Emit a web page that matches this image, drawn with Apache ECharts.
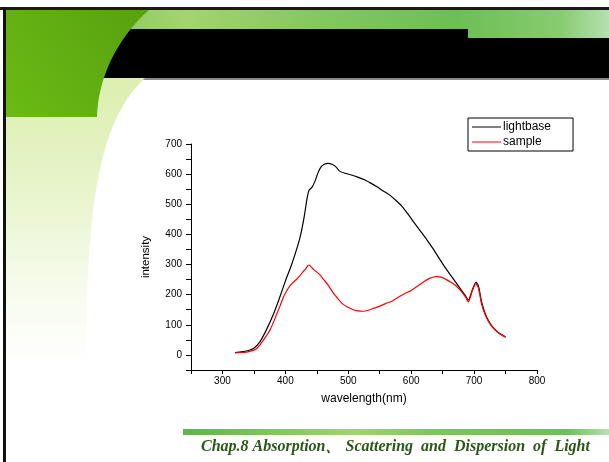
<!DOCTYPE html>
<html><head><meta charset="utf-8">
<script src="https://cdn.jsdelivr.net/npm/echarts@6/dist/echarts.min.js"></script>
<style>html,body{margin:0;padding:0;background:#fff}#c{width:609px;height:462px}</style>
</head><body><div id="c"></div>
<script>
// ---- data ----
const seriesNames = ['lightbase', 'sample'];
const xTicks = [300, 400, 500, 600, 700, 800];
const yTicks = [0, 100, 200, 300, 400, 500, 600, 700];
const lightbase = [
 [320,8],[330,10],[340,14],[350,22],[360,45],[370,84],[380,130],[390,185],[400,245],[410,300],
 [420,365],[425,405],[430,460],[435,525],[438,548],[442,555],[447,576],[452,605],[457,625],[462,633],
 [468,636],[475,632],[480,625],[486,610],[495,603],[505,597],[515,590],[525,582],[535,571],[545,559],
 [555,545],[565,532],[575,514],[585,494],[595,467],[605,438],[615,410],[625,382],[635,352],[645,319],
 [655,287],[665,258],[675,229],[685,200],[691,182],[697,215],[703,242],[707,228],[712,175],[718,135],
 [725,106],[732,87],[740,72],[750,60]
];
const sample = [
 [320,7],[330,8],[340,10],[350,16],[355,22],[362,40],[370,64],[376,84],[386,134],[392,165],
 [397,192],[402,212],[407,228],[412,240],[418,251],[423,262],[428,276],[432,285],[436,297],[438,298],
 [441,292],[445,283],[450,275],[455,266],[460,252],[468,232],[476,206],[483,188],[490,171],[498,160],
 [508,150],[516,146],[524,145],[533,149],[542,156],[550,162],[560,171],[571,180],[580,192],[590,204],
 [600,214],[610,228],[620,243],[630,255],[640,260],[648,258],[656,250],[664,240],[672,228],[680,210],
 [686,193],[691,176],[697,212],[703,237],[707,222],[712,168],[718,132],[725,104],[732,86],[740,71],[750,59]
];
const footerText = 'Chap.8 Absorption\u3001 Scattering  and  Dispersion  of  Light';

// ---- decoration helpers ----
function bez(p0,p1,p2,p3,n){const pts=[];for(let i=0;i<=n;i++){const t=i/n,u=1-t;
 pts.push([u*u*u*p0[0]+3*u*u*t*p1[0]+3*u*t*t*p2[0]+t*t*t*p3[0],u*u*u*p0[1]+3*u*u*t*p1[1]+3*u*t*t*p2[1]+t*t*t*p3[1]]);}return pts;}
const darkEdge = bez([150,9],[115,40],[98,80],[97,117],30);
const darkPoly = [[6,9]].concat(darkEdge).concat([[6,117]]);
const bandEdge = bez([145,78],[100,120],[86,200],[86,365],40);
const bandPoly = [[6,78]].concat(bandEdge).concat([[6,365]]);

const chart = echarts.init(document.getElementById('c'), null, {renderer:'canvas'});
const font = 'Liberation Sans, Arial, sans-serif';
chart.setOption({
 animation:false,
 backgroundColor:'#fff',
 graphic:[
  {type:'rect', z:-20, shape:{x:6,y:9,width:603,height:30}, style:{fill:new echarts.graphic.LinearGradient(0,0,1,0,[
    {offset:0,color:'#6fbd4c'},{offset:0.3,color:'#a3d46f'},{offset:0.5,color:'#86c862'},{offset:0.75,color:'#6cbf55'},{offset:0.92,color:'#88cc70'},{offset:1,color:'#b5e0b0'}])}},
  {type:'polygon', z:-19, shape:{points:[[90,29],[468,29],[468,38],[609,38],[609,78],[90,78]]}, style:{fill:'#000'}},
  {type:'rect', z:-19, shape:{x:95,y:78,width:514,height:2}, style:{fill:'#8a8a8a'}},
  {type:'polygon', z:-18, shape:{points:bandPoly}, style:{fill:new echarts.graphic.LinearGradient(0,0,0,1,[
    {offset:0,color:'#dcefb0'},{offset:0.35,color:'#e6f4c8'},{offset:0.75,color:'#f7fbee'},{offset:1,color:'#ffffff'}])}},
  {type:'polygon', z:-17, shape:{points:darkPoly}, style:{fill:new echarts.graphic.LinearGradient(1,0,0,1,[
    {offset:0,color:'#58a010'},{offset:1,color:'#6abb14'}])}},
  {type:'rect', z:-16, shape:{x:0,y:7,width:609,height:3}, style:{fill:'#1a1a1a'}},
  {type:'rect', z:-16, shape:{x:3,y:7,width:3,height:455}, style:{fill:'#111'}},
  {type:'rect', z:-16, shape:{x:183,y:429,width:426,height:6}, style:{fill:new echarts.graphic.LinearGradient(0,0,1,0,[
    {offset:0,color:'#5cb648'},{offset:0.4,color:'#a0d470'},{offset:0.6,color:'#7cc45c'},{offset:0.9,color:'#6cc055'},{offset:1,color:'#b8e0b0'}])}},
  {type:'text', z:-15, left:201, top:439, style:{text:footerText, font:'bold italic 16px "Liberation Serif", "Times New Roman", serif', fill:'#2c5518'}}
 ],
 legend:{
  data:seriesNames, orient:'vertical', left:468, top:118, itemGap:1, itemWidth:29, itemHeight:1,
  icon:'rect',
  borderColor:'#000', borderWidth:1, padding:[2,22,2,4], borderRadius:0,
  textStyle:{fontFamily:font, fontSize:12, lineHeight:14, color:'#000', padding:[0,0,0,-3]}
 },
 grid:{left:191, right:72, top:144, bottom:92, containLabel:false},
 xAxis:{
  type:'value', min:250, max:800, interval:50,
  name:'wavelength(nm)', nameLocation:'middle', nameGap:23,
  nameTextStyle:{fontFamily:font, fontSize:12, color:'#000'},
  axisLine:{onZero:false, lineStyle:{color:'#000', width:1}},
  axisTick:{show:true, inside:false, length:4, lineStyle:{color:'#000'}},
  axisLabel:{fontFamily:font, fontSize:10, color:'#000', margin:6,
   formatter:v=>xTicks.includes(v)?String(v):''},
  splitLine:{show:false}
 },
 yAxis:{
  type:'value', min:-50, max:700, interval:50,
  name:'intensity', nameLocation:'middle', nameGap:39,
  nameTextStyle:{fontFamily:font, fontSize:11.5, color:'#000'},
  axisLine:{show:true, onZero:false, lineStyle:{color:'#000', width:1}},
  axisTick:{show:true, inside:false, length:5, lineStyle:{color:'#000'}},
  axisLabel:{fontFamily:font, fontSize:10, color:'#000', margin:9,
   formatter:v=>yTicks.includes(v)?String(v):''},
  splitLine:{show:false}
 },
 series:[
  {name:seriesNames[0], type:'line', data:lightbase, symbol:'none', smooth:0.2,
   lineStyle:{color:'#000', width:1.2}, itemStyle:{color:'#000'}},
  {name:seriesNames[1], type:'line', data:sample, symbol:'none', smooth:0.2,
   lineStyle:{color:'#ff0000', width:1.2}, itemStyle:{color:'#ff0000'}}
 ]
});
</script></body></html>
